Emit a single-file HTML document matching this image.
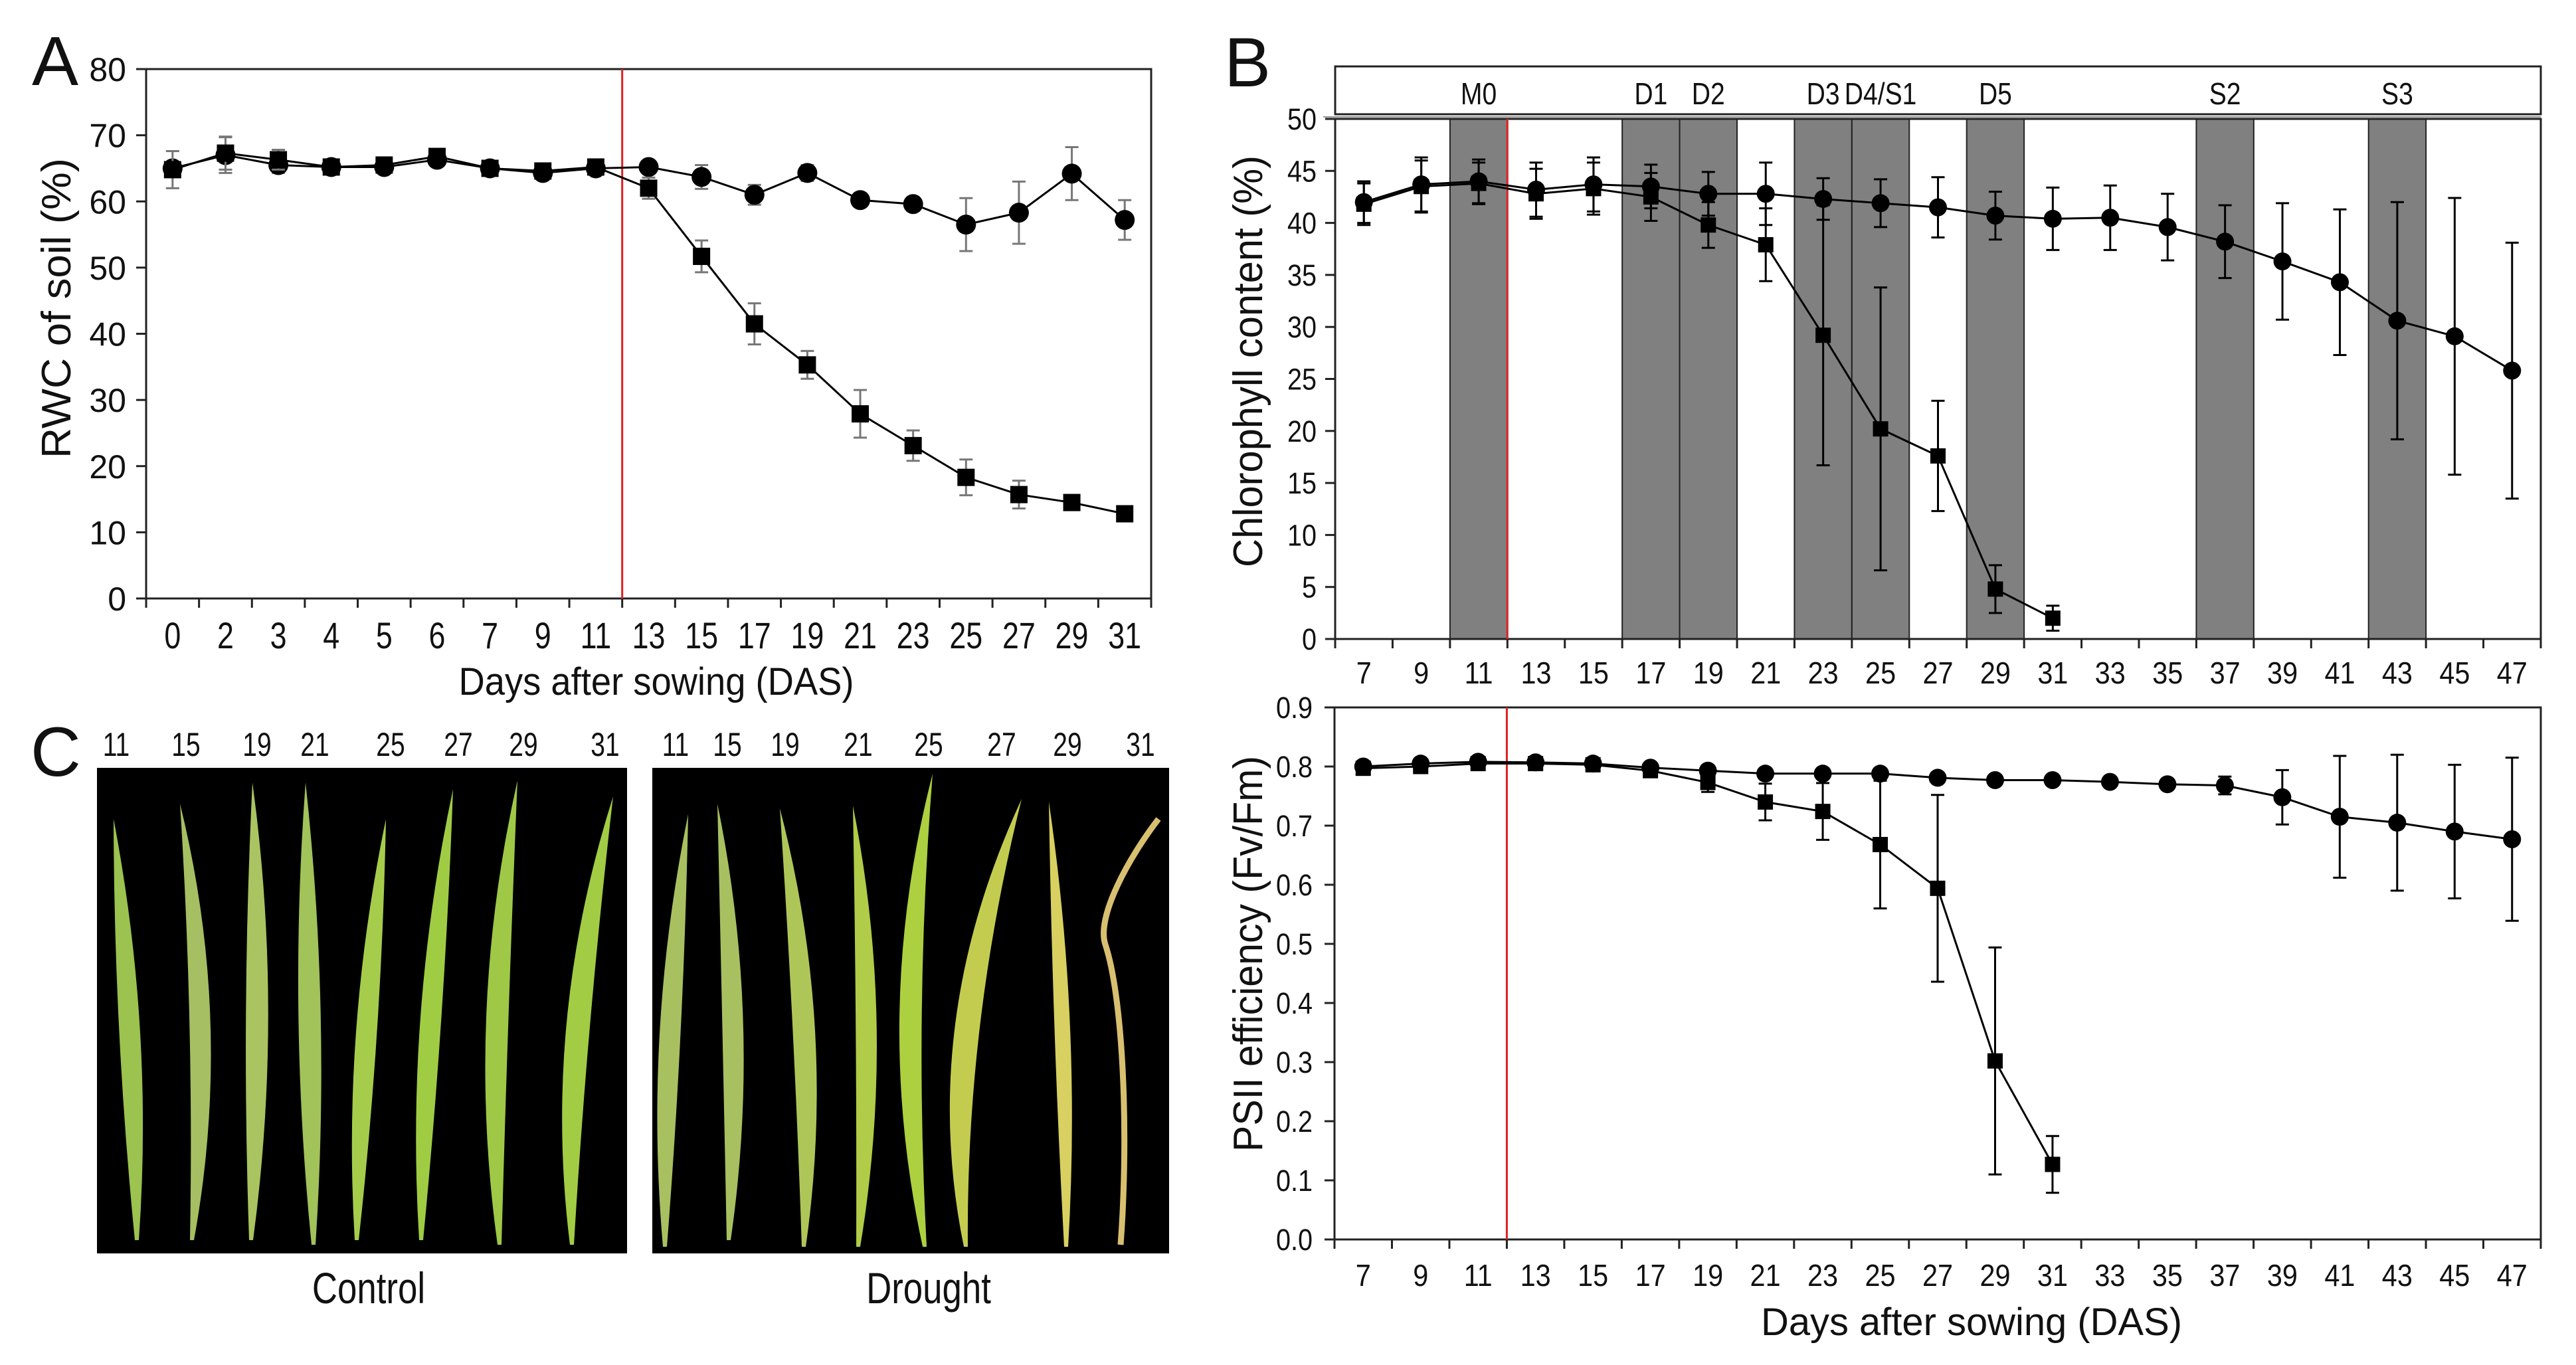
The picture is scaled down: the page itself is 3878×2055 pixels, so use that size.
<!DOCTYPE html>
<html><head><meta charset="utf-8"><style>
html,body{margin:0;padding:0;background:#fff}
svg{display:block}
text{font-family:"Liberation Sans",sans-serif;fill:#111}
</style></head><body>
<svg id="fig" width="3878" height="2055" viewBox="0 0 3878 2055" xmlns="http://www.w3.org/2000/svg">
<rect x="0" y="0" width="3878" height="2055" fill="#fff"/>
<text x="48" y="128" font-size="105">A</text>
<text x="1843" y="130" font-size="105">B</text>
<text x="46" y="1168" font-size="105">C</text>
<g id="gA"></g>
<g id="gB"></g>
<g id="gC"></g>
<g id="gP"></g>
</svg>
<script>
// ---- Panel A data ----
const catsA = ["0","2","3","4","5","6","7","9","11","13","15","17","19","21","23","25","27","29","31"];
const ctrlA = [65,67,65.5,65.2,65.2,66.3,65,64.3,65,65.2,63.7,61,64.3,60.2,59.6,56.5,58.3,64.2,57.2];
const ctrlAErr = [0.8,2.7,1.2,0.6,0.6,0.7,0.6,0.6,0.6,0.8,1.8,1.5,1.2,1,1,4,4.7,4,3];
const drtA = [64.8,67.3,66.3,65.2,65.5,66.8,65,64.6,65.2,62,51.7,41.5,35.3,27.9,23.1,18.3,15.7,14.5,12.8];
const drtAErr = [2.8,2.5,1.5,0.5,0.5,0.6,0.5,0.5,0.5,1.6,2.4,3.1,2.1,3.6,2.3,2.7,2.1,1,1];
const ticksA = [0,10,20,30,40,50,60,70,80];
// ---- Panel B data ----
const catsB = ["7","9","11","13","15","17","19","21","23","25","27","29","31","33","35","37","39","41","43","45","47"];
const ctrlB = [42,43.7,44,43.2,43.7,43.5,42.8,42.8,42.3,41.9,41.5,40.7,40.4,40.5,39.6,38.2,36.3,34.3,30.6,29.1,25.8];
const ctrlBErr = [2,2.6,2.1,2.6,2.6,2.1,2.1,3,2,2.3,2.9,2.3,3,3.1,3.2,3.5,5.6,7,11.4,13.3,12.3];
const drtB = [41.8,43.5,43.8,42.8,43.3,42.5,39.8,37.9,29.2,20.2,17.6,4.8,2.0];
const drtBErr = [2,2.5,2,2.4,2.5,2.3,2.2,3.5,12.5,13.6,5.3,2.3,1.2];
const ticksB = [0,5,10,15,20,25,30,35,40,45,50];
const stageLabels = ["M0","D1","D2","D3","D4/S1","D5","S2","S3"];
const stageIdx = [2,5,6,8,9,11,15,18];
// ---- Panel B bottom (PSII) ----
const ctrlC = [0.80,0.805,0.808,0.807,0.805,0.798,0.793,0.788,0.788,0.788,0.781,0.777,0.777,0.774,0.770,0.768,0.748,0.715,0.705,0.690,0.677];
const ctrlCErr = [0.006,0.006,0.006,0.006,0.006,0.006,0.006,0.006,0.006,0.006,0.006,0.006,0.006,0.006,0.008,0.015,0.046,0.103,0.115,0.113,0.138];
const drtC = [0.797,0.80,0.805,0.805,0.803,0.793,0.773,0.74,0.724,0.668,0.594,0.302,0.127];
const drtCErr = [0.005,0.005,0.005,0.005,0.005,0.006,0.016,0.031,0.048,0.108,0.158,0.192,0.048];
const ticksC = ["0.0","0.1","0.2","0.3","0.4","0.5","0.6","0.7","0.8","0.9"];

const NS="http://www.w3.org/2000/svg";
function mk(parent,tag,attrs,txt){const e=document.createElementNS(NS,tag);for(const k in attrs)e.setAttribute(k,attrs[k]);if(txt!==undefined)e.textContent=txt;parent.appendChild(e);return e;}
function ntext(parent,x,y,s,size,anchor,sx){const t=mk(parent,'text',{x:0,y:0,'font-size':size,'text-anchor':anchor||'middle',transform:`translate(${x},${y}) scale(${sx||0.85},1)`},s);return t;}

function series(g,vals,errs,xf,yf,shape,errColor,name,ms){
  let d=vals.map((v,i)=>(i?'L':'M')+xf(i)+','+yf(v)).join(' ');
  const ln=mk(g,'path',{d:d,fill:'none',stroke:'#000','stroke-width':3});
  
  
  vals.forEach((v,i)=>{
    const x=xf(i),y1=yf(v+errs[i]),y2=yf(v-errs[i]);
    const eb=mk(g,'path',{d:`M${x},${y1}V${y2}M${x-10},${y1}H${x+10}M${x-10},${y2}H${x+10}`,stroke:errColor,'stroke-width':3,fill:'none'});
    
    
  });
  vals.forEach((v,i)=>{
    const x=xf(i),y=yf(v);let m;
    if(shape==='c'){m=mk(g,'circle',{cx:x,cy:y,r:ms/2+1,fill:'#000'});}
    else{m=mk(g,'rect',{x:x-ms/2,y:y-ms/2,width:ms,height:ms,fill:'#000'});}
    
    
  });
}

// ---- Panel A ----
(function(){
  const g=document.getElementById('gA');
  const L=220,R=1733,T=104,B=901,n=catsA.length,w=(R-L)/n;
  const xf=i=>L+(i+0.5)*w, yf=v=>B-v/80*(B-T);
  mk(g,'rect',{x:L,y:T,width:R-L,height:B-T,fill:'none',stroke:'#222','stroke-width':3});
  ticksA.forEach(v=>{mk(g,'line',{x1:L-15,x2:L,y1:yf(v),y2:yf(v),stroke:'#222','stroke-width':3});
    const t=ntext(g,190,yf(v)+18,String(v),50,'end',1);});
  for(let i=0;i<=n;i++)mk(g,'line',{x1:L+i*w,x2:L+i*w,y1:B,y2:B+14,stroke:'#222','stroke-width':3});
  catsA.forEach((c,i)=>{const t=ntext(g,xf(i),976,c,56,'middle',0.8);});
  const red=mk(g,'line',{x1:L+9*w,x2:L+9*w,y1:T,y2:B,stroke:'#e02020','stroke-width':3});
  
  series(g,ctrlA,ctrlAErr,xf,yf,'c','#777','control-rwc',28);
  series(g,drtA,drtAErr,xf,yf,'s','#777','drought-rwc',26);
  const xt=mk(g,'text',{x:988,y:1046,'font-size':58,'text-anchor':'middle',textLength:595,lengthAdjust:'spacingAndGlyphs'},'Days after sowing (DAS)');
  
  const yt=mk(g,'text',{x:0,y:0,'font-size':62,'text-anchor':'middle',transform:'translate(106,464) rotate(-90)',textLength:452,lengthAdjust:'spacingAndGlyphs'},'RWC of soil (%)');
  
})();

// ---- Panel B top ----
(function(){
  const g=document.getElementById('gB');
  const L=2010,R=3825,T=179,B=962,n=catsB.length,w=(R-L)/n;
  const xf=i=>L+(i+0.5)*w, yf=v=>B-v/50*(B-T);
  const box=mk(g,'rect',{x:L,y:100,width:R-L,height:72,fill:'#fff',stroke:'#222','stroke-width':3});
  
  stageIdx.forEach((k,j)=>{
    const r=mk(g,'rect',{x:L+k*w,y:T,width:w,height:B-T,fill:'#808080',stroke:'#222','stroke-width':2});
    
    
    const t=ntext(g,xf(k),157,stageLabels[j],46,'middle',0.85);
    
  });
  mk(g,'rect',{x:L,y:T,width:R-L,height:B-T,fill:'none',stroke:'#222','stroke-width':3});
  mk(g,'line',{x1:L-18,x2:R,y1:T-3,y2:T-3,stroke:'#999','stroke-width':2});
  ticksB.forEach(v=>{mk(g,'line',{x1:L-15,x2:L,y1:yf(v),y2:yf(v),stroke:'#222','stroke-width':3});
    const t=ntext(g,1982,yf(v)+16,String(v),45,'end',0.88);});
  for(let i=0;i<=n;i++)mk(g,'line',{x1:L+i*w,x2:L+i*w,y1:B,y2:B+14,stroke:'#222','stroke-width':3});
  catsB.forEach((c,i)=>{const t=ntext(g,xf(i),1029,c,46,'middle',0.9);});
  const red=mk(g,'line',{x1:L+3*w,x2:L+3*w,y1:T,y2:B,stroke:'#e02020','stroke-width':3});
  
  series(g,ctrlB,ctrlBErr,xf,yf,'c','#000','control-chlorophyll',25);
  series(g,drtB,drtBErr,xf,yf,'s','#000','drought-chlorophyll',23);
  const yt=mk(g,'text',{x:0,y:0,'font-size':62,'text-anchor':'middle',transform:'translate(1900,544) rotate(-90)',textLength:620,lengthAdjust:'spacingAndGlyphs'},'Chlorophyll content (%)');
  
})();

// ---- Panel B bottom ----
(function(){
  const g=document.getElementById('gC');
  const L=2009,R=3825,T=1065,B=1866,n=catsB.length,w=(R-L)/n;
  const xf=i=>L+(i+0.5)*w, yf=v=>B-v/0.9*(B-T);
  mk(g,'rect',{x:L,y:T,width:R-L,height:B-T,fill:'none',stroke:'#222','stroke-width':3});
  ticksC.forEach(s=>{const v=parseFloat(s);mk(g,'line',{x1:L-15,x2:L,y1:yf(v),y2:yf(v),stroke:'#222','stroke-width':3});
    const t=ntext(g,1976,yf(v)+16,s,45,'end',0.88);});
  for(let i=0;i<=n;i++)mk(g,'line',{x1:L+i*w,x2:L+i*w,y1:B,y2:B+14,stroke:'#222','stroke-width':3});
  catsB.forEach((c,i)=>{const t=ntext(g,xf(i),1936,c,46,'middle',0.9);});
  const red=mk(g,'line',{x1:L+3*w,x2:L+3*w,y1:T,y2:B,stroke:'#e02020','stroke-width':3});
  
  series(g,ctrlC,ctrlCErr,xf,yf,'c','#000','control-psii',25);
  series(g,drtC,drtCErr,xf,yf,'s','#000','drought-psii',23);
  const xt=mk(g,'text',{x:2968,y:2010,'font-size':58,'text-anchor':'middle',textLength:634,lengthAdjust:'spacingAndGlyphs'},'Days after sowing (DAS)');
  
  const yt=mk(g,'text',{x:0,y:0,'font-size':62,'text-anchor':'middle',transform:'translate(1900,1436) rotate(-90)',textLength:596,lengthAdjust:'spacingAndGlyphs'},'PSII efficiency (Fv/Fm)');
  
})();

// ---- Panel C photos ----
(function(){
  const g=document.getElementById('gP');
  const bc=mk(g,'rect',{x:146,y:1156,width:798,height:731,fill:'#000'});
  
  const bd=mk(g,'rect',{x:982,y:1156,width:778,height:731,fill:'#000'});
  
  const leaves=[
    [171,1233,195,206,1867,30,'#9cc250'],[271,1210,301,289,1867,30,'#a6bf62'],[380,1178,387,378,1867,32,'#a9c460'],
    [460,1178,466,472,1874,32,'#a2c25a'],[581,1233,552,537,1867,30,'#a6cc4c'],[682,1188,649,634,1867,30,'#a0cc44'],
    [779,1175,749,752,1874,32,'#9ec846'],[923,1199,871,861,1874,34,'#a2cc44'],
    [1036,1226,1009,1001,1877,30,'#a8c060'],[1080,1210,1103,1097,1867,30,'#a8c060'],[1174,1217,1210,1210,1877,32,'#aec658'],
    [1284,1213,1304,1292,1877,30,'#b0cc48'],[1404,1165,1371,1392,1877,32,'#acd040'],[1538,1203,1457,1454,1877,36,'#c4cc50'],
    [1579,1207,1599,1605,1877,22,'#d8d060']
  ];
  leaves.forEach((l,i)=>{
    const [tx,ty,mx,bx,by,w,c]=l,my=(ty+by)/2;
    const cxl=2*mx-(tx+bx)/2;
    const p=mk(g,'path',{d:`M${tx},${ty} Q${cxl-w},${my} ${bx-3},${by} L${bx+3},${by} Q${cxl+w},${my} ${tx},${ty} Z`,fill:c});
    
    
  });
  const cl=mk(g,'path',{d:'M1744,1233 C1700,1290 1650,1380 1664,1422 C1690,1500 1700,1700 1687,1874',fill:'none',stroke:'#d8c070','stroke-width':9});
  
  
  const numsC=["11","15","19","21","25","27","29","31"];
  const numXc=[175,280,387,474,588,690,788,911];
  const numXd=[1017,1095,1182,1292,1398,1508,1607,1717];
  numsC.forEach((s,i)=>{
    const a=ntext(g,numXc[i],1138,s,50,'middle',0.78);
    const b=ntext(g,numXd[i],1138,s,50,'middle',0.78);
  });
  const t1=ntext(g,555,1962,'Control',66,'middle',0.8);
  const t2=ntext(g,1398,1962,'Drought',66,'middle',0.8);
})();
</script>
</body></html>
